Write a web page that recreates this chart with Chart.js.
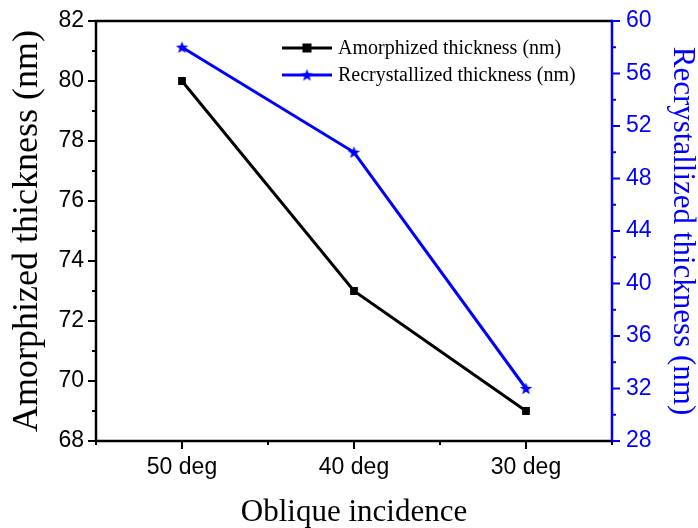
<!DOCTYPE html>
<html>
<head>
<meta charset="utf-8">
<script src="https://cdn.jsdelivr.net/npm/chart.js@4"></script>
<style>
html,body{margin:0;padding:0;background:#fff;}
#wrap{width:698px;height:528px;}
</style>
</head>
<body>
<div id="wrap"><canvas id="c" width="698" height="528"></canvas></div>
<script>
const categories = ['50 deg', '40 deg', '30 deg'];
const amorphized = [80, 73, 69];
const recrystallized = [58, 50, 32];
const leftTicks = {min: 68, max: 82, step: 2};
const rightTicks = {min: 28, max: 60, step: 4};

const BLUE = '#0000ff';
const SANS = '"Liberation Sans", Arial, sans-serif';
const SERIF = '"Liberation Serif", "Times New Roman", serif';

function makeStar(color, outer, inner) {
  const c = document.createElement('canvas');
  const s = Math.ceil(outer * 2 + 2);
  c.width = s; c.height = s;
  const g = c.getContext('2d');
  g.translate(s / 2, s / 2 + 0.5);
  g.beginPath();
  for (let i = 0; i < 10; i++) {
    const r = i % 2 === 0 ? outer : inner;
    const a = -Math.PI / 2 + i * Math.PI / 5;
    const px = r * Math.cos(a), py = r * Math.sin(a);
    if (i === 0) g.moveTo(px, py); else g.lineTo(px, py);
  }
  g.closePath();
  g.fillStyle = color;
  g.fill();
  return c;
}
const star = makeStar(BLUE, 6.5, 2.7);

const framePlugin = {
  id: 'frame',
  afterDraw(chart) {
    const ctx = chart.ctx;
    const {left, right, top, bottom} = chart.chartArea;
    const sx = chart.scales.x, sy = chart.scales.y, sy1 = chart.scales.y1;
    ctx.save();
    ctx.lineCap = 'butt';
    ctx.lineWidth = 2.5;
    ctx.strokeStyle = '#000';
    ctx.beginPath();
    ctx.moveTo(right, top); ctx.lineTo(left, top); ctx.lineTo(left, bottom); ctx.lineTo(right, bottom);
    ctx.stroke();
    ctx.strokeStyle = BLUE;
    ctx.beginPath();
    ctx.moveTo(right, top - 1.25); ctx.lineTo(right, bottom + 1.25);
    ctx.stroke();
    ctx.lineWidth = 2;
    ctx.strokeStyle = '#000';
    for (let v = leftTicks.min; v <= leftTicks.max; v += leftTicks.step / 2) {
      const y = sy.getPixelForValue(v);
      const major = (v - leftTicks.min) % leftTicks.step === 0;
      ctx.beginPath();
      ctx.moveTo(left, y); ctx.lineTo(left - (major ? 8 : 4), y);
      ctx.stroke();
    }
    for (let i = -0.5; i <= categories.length - 0.5; i += 0.5) {
      const x = sx.getPixelForValue(i);
      const major = Number.isInteger(i);
      ctx.beginPath();
      ctx.moveTo(x, bottom); ctx.lineTo(x, bottom + (major ? 8 : 4));
      ctx.stroke();
    }
    ctx.strokeStyle = BLUE;
    for (let v = rightTicks.min; v <= rightTicks.max; v += rightTicks.step / 2) {
      const y = sy1.getPixelForValue(v);
      const major = (v - rightTicks.min) % rightTicks.step === 0;
      ctx.beginPath();
      ctx.moveTo(right, y); ctx.lineTo(right + (major ? 8 : 4), y);
      ctx.stroke();
    }
    // legend
    const lx = left + 186, ly = top + 27, gap = 27;
    chart.data.datasets.forEach((ds, k) => {
      const y = ly + k * gap;
      ctx.strokeStyle = ds.borderColor;
      ctx.lineWidth = ds.borderWidth;
      ctx.beginPath();
      ctx.moveTo(lx, y); ctx.lineTo(lx + 50, y);
      ctx.stroke();
      if (ds.pointStyle === 'rect') {
        ctx.fillStyle = ds.borderColor;
        ctx.fillRect(lx + 25 - 4.5, y - 4.5, 9, 9);
      } else {
        ctx.drawImage(ds.pointStyle, lx + 25 - ds.pointStyle.width / 2, y - ds.pointStyle.height / 2);
      }
      ctx.fillStyle = '#000';
      ctx.font = '20px ' + SERIF;
      ctx.textAlign = 'left';
      ctx.textBaseline = 'middle';
      ctx.fillText(ds.label, lx + 56, y + 1);
    });
    ctx.restore();
  }
};

new Chart(document.getElementById('c'), {
  type: 'line',
  data: {
    labels: categories,
    datasets: [
      {
        label: 'Amorphized thickness (nm)',
        data: amorphized,
        yAxisID: 'y',
        borderColor: '#000',
        backgroundColor: '#000',
        borderWidth: 3,
        pointStyle: 'rect',
        pointRadius: 5.5,
        pointBorderWidth: 0,
        pointBackgroundColor: '#000',
        tension: 0
      },
      {
        label: 'Recrystallized thickness (nm)',
        data: recrystallized,
        yAxisID: 'y1',
        borderColor: BLUE,
        backgroundColor: BLUE,
        borderWidth: 3,
        pointStyle: star,
        pointRadius: 6,
        tension: 0
      }
    ]
  },
  options: {
    responsive: false,
    animation: false,
    devicePixelRatio: 1,
    layout: {padding: {top: 21, left: 0, right: 0, bottom: 0}},
    plugins: {legend: {display: false}, tooltip: {enabled: false}},
    scales: {
      x: {
        type: 'category',
        offset: true,
        grid: {display: false, drawTicks: false},
        border: {display: false},
        ticks: {color: '#000', font: {family: SANS, size: 23}, padding: 13, maxRotation: 0, autoSkip: false},
        title: {display: true, text: 'Oblique incidence', color: '#000',
          font: {family: SERIF, size: 31, lineHeight: 1}, padding: {top: 0, bottom: 0}},
        afterFit(s) { s.height = 87; s.paddingLeft = 0; s.paddingRight = 0; }
      },
      y: {
        position: 'left',
        min: leftTicks.min, max: leftTicks.max,
        grid: {display: false, drawTicks: false},
        border: {display: false},
        ticks: {stepSize: leftTicks.step, color: '#000', font: {family: SANS, size: 23}, padding: 12},
        title: {display: true, text: 'Amorphized thickness (nm)', color: '#000',
          font: {family: SERIF, size: 36, lineHeight: 1}, padding: {top: 10, bottom: 0}},
        afterFit(s) { s.width = 96; s.paddingTop = 0; s.paddingBottom = 0; }
      },
      y1: {
        position: 'right',
        min: rightTicks.min, max: rightTicks.max,
        grid: {display: false, drawTicks: false},
        border: {display: false},
        ticks: {stepSize: rightTicks.step, color: BLUE, font: {family: SANS, size: 23}, padding: 14},
        title: {display: true, text: 'Recrystallized thickness (nm)', color: BLUE,
          font: {family: SERIF, size: 31, lineHeight: 1}, padding: {top: 0, bottom: 0}},
        afterFit(s) { s.width = 86; s.paddingTop = 0; s.paddingBottom = 0; }
      }
    }
  },
  plugins: [framePlugin]
});
</script>
</body>
</html>
